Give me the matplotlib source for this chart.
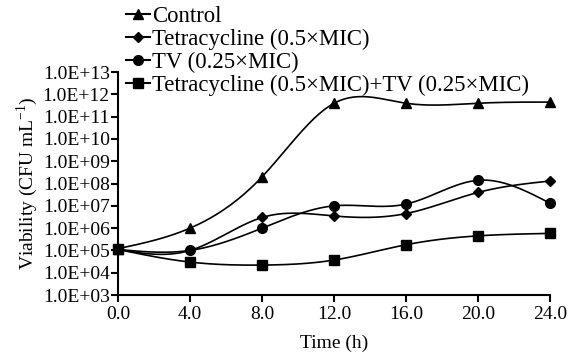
import numpy as np
import matplotlib

matplotlib.use("Agg")
import matplotlib.pyplot as plt
from matplotlib.ticker import FixedLocator, FuncFormatter, NullLocator

plt.rcParams.update(
    {
        "font.family": "Liberation Serif",
        "mathtext.fontset": "custom",
        "mathtext.rm": "Liberation Serif",
        "font.size": 14,
        "axes.linewidth": 1.5,
    }
)

hours = [0, 4, 8, 12, 16, 20, 24]
control = [1.2e5, 1.0e6, 2.0e8, 4.0e11, 4.0e11, 4.0e11, 4.5e11]
tetracycline = [1.1e5, 1.0e5, 3.0e6, 3.5e6, 4.5e6, 4.0e7, 1.3e8]
tv = [1.1e5, 1.0e5, 1.0e6, 1.0e7, 1.2e7, 1.4e8, 1.3e7]
combo = [1.1e5, 3.0e4, 2.2e4, 3.7e4, 1.8e5, 4.5e5, 5.8e5]

labels = [
    "Control",
    "Tetracycline (0.5\u00d7MIC)",
    "TV (0.25\u00d7MIC)",
    "Tetracycline (0.5\u00d7MIC)+TV (0.25\u00d7MIC)",
]
markers = ["^", "D", "o", "s"]
msizes = [7, 5, 7, 7]


def natural_spline(x, y, n=200):
    # natural cubic spline, done on log10 values like the original graph
    x = np.asarray(x, float)
    y = np.asarray(y, float)
    k = len(x)
    h = np.diff(x)
    A = np.zeros((k, k))
    b = np.zeros(k)
    A[0, 0] = A[-1, -1] = 1
    for i in range(1, k - 1):
        A[i, i - 1] = h[i - 1]
        A[i, i] = 2 * (h[i - 1] + h[i])
        A[i, i + 1] = h[i]
        b[i] = 3 * ((y[i + 1] - y[i]) / h[i] - (y[i] - y[i - 1]) / h[i - 1])
    c = np.linalg.solve(A, b)
    xs = np.linspace(x[0], x[-1], n)
    idx = np.clip(np.searchsorted(x, xs) - 1, 0, k - 2)
    dx = xs - x[idx]
    hi = h[idx]
    bb = (y[idx + 1] - y[idx]) / hi - hi * (2 * c[idx] + c[idx + 1]) / 3
    dd = (c[idx + 1] - c[idx]) / (3 * hi)
    ys = y[idx] + bb * dx + c[idx] * dx**2 + dd * dx**3
    return xs, ys


fig = plt.figure(figsize=(5.76, 3.55), dpi=100)
ax = fig.add_axes([0.205, 0.169, 0.75, 0.628])

handles = []
for vals, lab, m, ms in zip([control, tetracycline, tv, combo], labels, markers, msizes):
    xs, ys = natural_spline(hours, np.log10(vals))
    ax.plot(xs, 10**ys, color="black", lw=1.2)
    ax.plot(hours, vals, ls="none", marker=m, ms=ms, color="black", clip_on=False)
    h, = ax.plot([], [], color="black", lw=1.5, marker=m, ms=ms)
    handles.append(h)

ax.set_yscale("log")
ax.set_ylim(1e3, 1e13)
ax.set_xlim(0, 24)
ax.yaxis.set_major_locator(FixedLocator([10.0**e for e in range(3, 14)]))
ax.yaxis.set_minor_locator(NullLocator())
ax.yaxis.set_major_formatter(FuncFormatter(lambda v, _p: f"1.0E+{int(round(np.log10(v))):02d}"))
ax.set_xticks(hours)
ax.xaxis.set_major_formatter(FuncFormatter(lambda v, _p: f"{v:.1f}"))
ax.tick_params(axis="y", direction="out", length=5, width=1.5, labelsize=14, pad=1)
ax.tick_params(axis="x", direction="out", length=5, width=1.5, labelsize=14, pad=3)
for s in ["top", "right"]:
    ax.spines[s].set_visible(False)

ax.set_xlabel("Time (h)", fontsize=14, labelpad=8)
ax.set_ylabel(r"Viability (CFU mL$^{\mathregular{-1}}$)", fontsize=14, labelpad=2)

fig.legend(
    handles,
    labels,
    loc="upper left",
    bbox_to_anchor=(0.203, 1.008),
    frameon=False,
    fontsize=16.4,
    handlelength=1.05,
    handletextpad=0.1,
    labelspacing=0.08,
    borderaxespad=0,
)

fig.savefig("out.png", dpi=100)
